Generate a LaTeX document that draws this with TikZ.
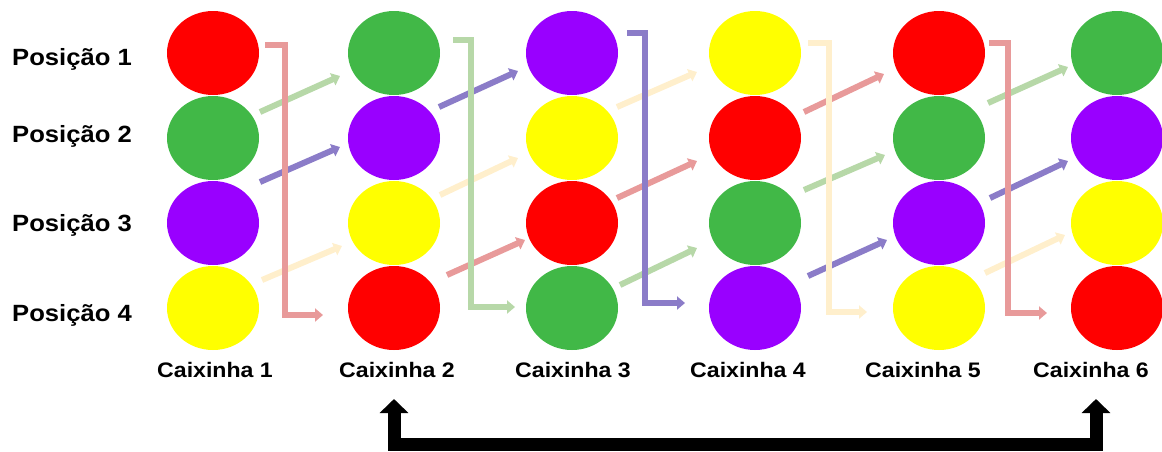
\documentclass[tikz,border=0pt]{standalone}
\usepackage{fontspec}
\setmainfont{Liberation Sans}
\usetikzlibrary{shapes.geometric,arrows.meta}
\definecolor{cred}{HTML}{FF0000}
\definecolor{cgreen}{HTML}{41B847}
\definecolor{cpurple}{HTML}{9900FF}
\definecolor{cyellow}{HTML}{FFFF00}
\definecolor{lred}{HTML}{E89A9A}
\definecolor{lgreen}{HTML}{B7D8A8}
\definecolor{lpurple}{HTML}{8B7CC8}
\definecolor{lyellow}{HTML}{FFEFCC}
\begin{document}
\begin{tikzpicture}[x=1pt,y=-1pt,
  ball/.style={ellipse, inner sep=0pt, minimum width=92pt, minimum height=84pt, draw=none},
  conn/.style={line width=6pt, -{Triangle[length=8pt,width=13pt]}},
  bracket/.style={conn, rounded corners=0pt, line join=miter},
  poslab/.style={anchor=base west, inner sep=0pt, font=\bfseries\fontsize{23.5}{28}\selectfont},
  cxlab/.style={anchor=base, inner sep=0pt, font=\bfseries\fontsize{21}{25}\selectfont},
  bigarrow/.style={line width=13pt, line join=miter, {Triangle[length=14pt,width=28pt]}-{Triangle[length=14pt,width=28pt]}}]
\useasboundingbox (0,0) rectangle (1162,451);

% row labels
\node[poslab] (p1) at (12,65) {\scalebox{1.09}[1]{Posição 1}};
\node[poslab] (p2) at (12,142) {\scalebox{1.09}[1]{Posição 2}};
\node[poslab] (p3) at (12,231) {\scalebox{1.09}[1]{Posição 3}};
\node[poslab] (p4) at (12,321) {\scalebox{1.09}[1]{Posição 4}};

% column 1
\node[ball, fill=cred]    (c11) at (213,53) {};
\node[ball, fill=cgreen]  (c12) at (213,138) {};
\node[ball, fill=cpurple] (c13) at (213,223) {};
\node[ball, fill=cyellow] (c14) at (213,308) {};
% column 2
\node[ball, fill=cgreen]  (c21) at (394,53) {};
\node[ball, fill=cpurple] (c22) at (394,138) {};
\node[ball, fill=cyellow] (c23) at (394,223) {};
\node[ball, fill=cred]    (c24) at (394,308) {};
% column 3
\node[ball, fill=cpurple] (c31) at (572,53) {};
\node[ball, fill=cyellow] (c32) at (572,138) {};
\node[ball, fill=cred]    (c33) at (572,223) {};
\node[ball, fill=cgreen]  (c34) at (572,308) {};
% column 4
\node[ball, fill=cyellow] (c41) at (755,53) {};
\node[ball, fill=cred]    (c42) at (755,138) {};
\node[ball, fill=cgreen]  (c43) at (755,223) {};
\node[ball, fill=cpurple] (c44) at (755,308) {};
% column 5
\node[ball, fill=cred]    (c51) at (939,53) {};
\node[ball, fill=cgreen]  (c52) at (939,138) {};
\node[ball, fill=cpurple] (c53) at (939,223) {};
\node[ball, fill=cyellow] (c54) at (939,308) {};
% column 6
\node[ball, fill=cgreen]  (c61) at (1117,53) {};
\node[ball, fill=cpurple] (c62) at (1117,138) {};
\node[ball, fill=cyellow] (c63) at (1117,223) {};
\node[ball, fill=cred]    (c64) at (1117,308) {};

% column labels
\node[cxlab] (k1) at (215,377) {\scalebox{1.1}[1]{Caixinha 1}};
\node[cxlab] (k2) at (397,377) {\scalebox{1.1}[1]{Caixinha 2}};
\node[cxlab] (k3) at (573,377) {\scalebox{1.1}[1]{Caixinha 3}};
\node[cxlab] (k4) at (748,377) {\scalebox{1.1}[1]{Caixinha 4}};
\node[cxlab] (k5) at (923,377) {\scalebox{1.1}[1]{Caixinha 5}};
\node[cxlab] (k6) at (1091,377) {\scalebox{1.1}[1]{Caixinha 6}};

% diagonal arrows, gap 1
\draw[conn, lgreen]  ([shift={(47,-26)}]c12.center) -- ([shift={(-54,23)}]c21.center);
\draw[conn, lpurple] ([shift={(47,-41)}]c13.center) -- ([shift={(-54,9)}]c22.center);
\draw[conn, lyellow] ([shift={(49,-28)}]c14.center) -- ([shift={(-52,23)}]c23.center);
% gap 2
\draw[conn, lpurple] ([shift={(45,-31)}]c22.center) -- ([shift={(-54,18)}]c31.center);
\draw[conn, lyellow] ([shift={(46,-28)}]c23.center) -- ([shift={(-54,20)}]c32.center);
\draw[conn, lred]    ([shift={(53,-33)}]c24.center) -- ([shift={(-47,17)}]c33.center);
% gap 3
\draw[conn, lyellow] ([shift={(45,-31)}]c32.center) -- ([shift={(-58,19)}]c41.center);
\draw[conn, lred]    ([shift={(45,-25)}]c33.center) -- ([shift={(-58,23)}]c42.center);
\draw[conn, lgreen]  ([shift={(48,-23)}]c34.center) -- ([shift={(-58,25)}]c43.center);
% gap 4
\draw[conn, lred]    ([shift={(49,-26)}]c42.center) -- ([shift={(-55,21)}]c51.center);
\draw[conn, lgreen]  ([shift={(49,-33)}]c43.center) -- ([shift={(-54,17)}]c52.center);
\draw[conn, lpurple] ([shift={(53,-32)}]c44.center) -- ([shift={(-52,17)}]c53.center);
% gap 5
\draw[conn, lgreen]  ([shift={(49,-35)}]c52.center) -- ([shift={(-49,14)}]c61.center);
\draw[conn, lpurple] ([shift={(51,-25)}]c53.center) -- ([shift={(-49,23)}]c62.center);
\draw[conn, lyellow] ([shift={(46,-35)}]c54.center) -- ([shift={(-52,12)}]c63.center);

% brackets: top ball goes to bottom
\draw[bracket, lred]    ([shift={(52,-8)}]c11.center)  -- ++(20,0) |- ([shift={(-71,7)}]c24.center);
\draw[bracket, lgreen]  ([shift={(59,-13)}]c21.center) -- ++(18,0) |- ([shift={(-57,-1)}]c34.center);
\draw[bracket, lpurple] ([shift={(55,-20)}]c31.center) -- ++(18,0) |- ([shift={(-70,-5)}]c44.center);
\draw[bracket, lyellow] ([shift={(53,-10)}]c41.center) -- ++(21,0) |- ([shift={(-72,4)}]c54.center);
\draw[bracket, lred]    ([shift={(50,-10)}]c51.center) -- ++(19,0) |- ([shift={(-70,5)}]c64.center);

% bottom double arrow
\coordinate (bl) at (394,399);
\coordinate (bm) at (745,444);
\coordinate (br) at (1096,399);
\draw[bigarrow] (bl) |- (bm) -| (br);
\end{tikzpicture}
\end{document}
